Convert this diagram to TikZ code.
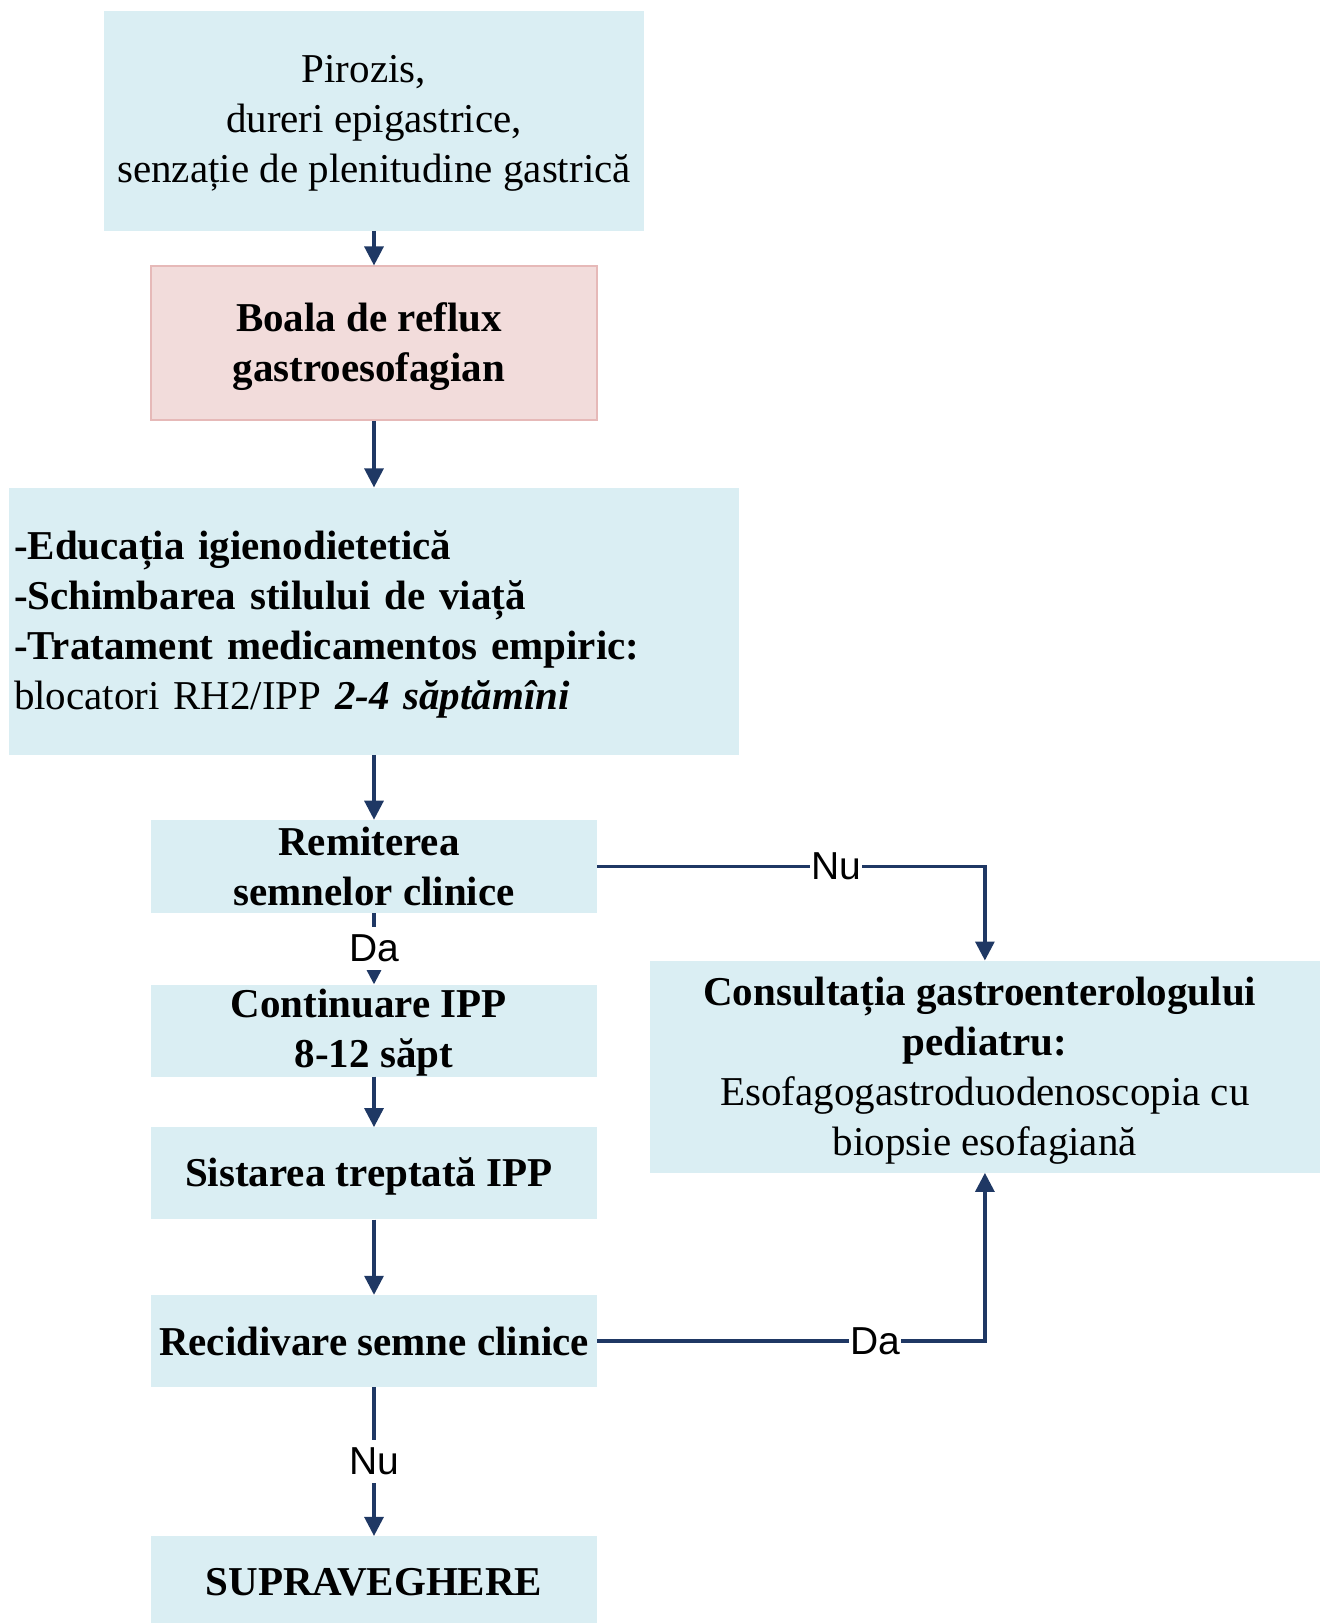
\documentclass[tikz,border=0pt]{standalone}
\usepackage{fontspec}
\setmainfont{Liberation Serif}
\newfontfamily\labelfont{Liberation Sans}
\usetikzlibrary{arrows.meta}
\definecolor{boxblue}{HTML}{DAEEF3}
\definecolor{boxpink}{HTML}{F2DCDB}
\definecolor{pinkline}{HTML}{E6B9B8}
\definecolor{arrowblue}{HTML}{1F3864}
\newcommand\tsp{\hspace*{0.25em}}
\begin{document}
\begin{tikzpicture}[x=1pt,y=-1pt,
  box/.style={fill=boxblue, draw=none, inner sep=0pt, minimum width=446pt, minimum height=92pt},
  pinkbox/.style={box, fill=boxpink, draw=pinkline, line width=1.5pt},
  txt/.style={inner sep=0pt, align=center, font=\fontsize{41}{50}\selectfont},
  arr/.style={draw=arrowblue, line width=3.2pt, -{Triangle[width=19pt,length=19pt]}},
  lab/.style={fill=white, inner xsep=1pt, inner ysep=8pt, font=\labelfont\fontsize{39}{45}\selectfont}]
\useasboundingbox (0,0) rectangle (1325,1623);
\node[box, minimum width=540pt, minimum height=220pt,
  label={[txt, yshift=-3pt]center:{Pirozis,\hspace*{0.5em}\\dureri epigastrice,\tsp\\senzație de plenitudine gastrică}}] (b1) at (374,120.6) {};
\node[pinkbox, minimum height=154pt,
  label={[txt, yshift=-3.5pt]center:{\textbf{Boala de reflux}\tsp\\\textbf{gastroesofagian}\tsp}}] (b2) at (374,343.2) {};
\node[box, minimum width=730pt, minimum height=267pt,
  label={[txt, yshift=-3.5pt, text width=720pt, align=left]center:{\textbf{-Educația igienodietetică}\\\textbf{-Schimbarea stilului de viață}\\\textbf{-Tratament medicamentos empiric:}\\blocatori RH2/IPP \textbf{\textit{2-4 săptămîni}}}}] (b3) at (374,621.1) {};
\node[box, minimum height=93pt,
  label={[txt]center:{\textbf{Remiterea}\tsp\\\textbf{semnelor clinice}}}] (b4) at (374,866.4) {};
\node[box,
  label={[txt, yshift=-2pt]center:{\textbf{Continuare IPP}\tsp\\\textbf{8-12 săpt}}}] (b5) at (374,1030.5) {};
\node[box,
  label={[txt, yshift=-3pt]center:{\textbf{Sistarea treptată IPP}\tsp}}] (b6) at (374,1173.3) {};
\node[box,
  label={[txt, yshift=0pt]center:{\textbf{Recidivare semne clinice}}}] (b7) at (374,1341) {};
\node[box, minimum height=87pt,
  label={[txt, yshift=-3pt]center:{\textbf{SUPRAVEGHERE}}}] (b8) at (374,1579.6) {};
\node[box, minimum width=670pt, minimum height=212pt,
  label={[txt, yshift=-4pt]center:{\textbf{Consultația gastroenterologului}\tsp\\\textbf{pediatru:}\\Esofagogastroduodenoscopia cu\tsp\\biopsie esofagiană}}] (b9) at (984.9,1066.7) {};
\draw[arr] (b1) -- (b2);
\draw[arr] (b2) -- (b3);
\draw[arr] (b3) -- (b4);
\draw[arr] (b4) -- node[lab]{Da} (b5);
\draw[arr] (b5) -- (b6);
\draw[arr] (b6) -- (b7);
\draw[arr] (b7) -- node[lab]{Nu} (b8);
\draw[arr] (b4.east) -- node[lab, pos=0.616]{Nu} (b4.east -| b9.north) -- (b9.north);
\draw[arr] (b7.east) -- node[lab, pos=0.717]{Da} (b7.east -| b9.south) -- (b9.south);
\end{tikzpicture}
\end{document}
